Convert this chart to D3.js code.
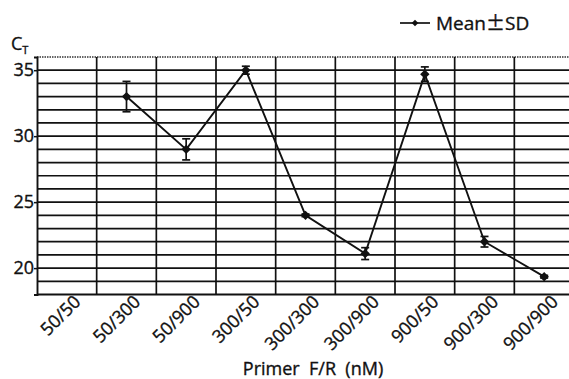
<!DOCTYPE html>
<html>
<head>
<meta charset="utf-8">
<script src="https://cdn.jsdelivr.net/npm/d3@7/dist/d3.min.js"></script>
<style>
  html, body { margin: 0; padding: 0; background: #fff; }
  svg { display: block; }
  text { font-family: "Open Sans", "Noto Sans", sans-serif; fill: #111; stroke: #111; stroke-width: 0.35px; }
</style>
</head>
<body>
<svg id="chart" width="569" height="379"></svg>
<script>
const categories = ["50/50", "50/300", "50/900", "300/50", "300/300", "300/900", "900/50", "900/300", "900/900"];
const meanValues = [null, 33.0, 29.0, 35.0, 24.0, 21.1, 34.7, 22.0, 19.35];
const sdValues = [null, 1.15, 0.8, 0.3, 0.1, 0.45, 0.55, 0.4, 0.1];
const yTickLabels = [20, 25, 30, 35];
const yGridValues = d3.range(18, 37, 1);
const legendParts = ["Mean", "\u00B1", "SD"];
const xTitle = "Primer  F/R  (nM)";

const data = categories.map((c, i) => ({ cat: c, mean: meanValues[i], sd: sdValues[i] }));

const svg = d3.select("#chart");
const pL = 37, pR = 574, pT = 57, pB = 294.5;

const x = d3.scaleBand().domain(categories).range([pL, pR]).padding(0);
const y = d3.scaleLinear().domain([18, 36]).range([pB, pT]);

// horizontal grid
svg.append("g").selectAll("line")
  .data(yGridValues.filter(v => v > 18 && v < 36))
  .join("line")
  .attr("x1", pL).attr("x2", 569)
  .attr("y1", d => y(d)).attr("y2", d => y(d))
  .attr("stroke", "#111").attr("stroke-width", 1.7);

// top border (dotted)
svg.append("line")
  .attr("x1", pL).attr("x2", 569)
  .attr("y1", y(36)).attr("y2", y(36))
  .attr("stroke", "#333").attr("stroke-width", 1.3)
  .attr("stroke-dasharray", "1.5,1");

// vertical grid at band boundaries
svg.append("g").selectAll("line")
  .data(categories.slice(1))
  .join("line")
  .attr("x1", d => x(d)).attr("x2", d => x(d))
  .attr("y1", pT).attr("y2", pB)
  .attr("stroke", "#111").attr("stroke-width", 1.7);

// y axis
const yAxis = d3.axisLeft(y).tickValues(yTickLabels).tickSize(3).tickPadding(0).tickFormat(d3.format("d"));
const gy = svg.append("g").attr("transform", `translate(${pL},0)`).call(yAxis);
gy.select(".domain").attr("stroke", "#111").attr("stroke-width", 1.9);
gy.selectAll(".tick line").attr("stroke", "#111").attr("stroke-width", 1.5);
gy.selectAll(".tick text").attr("font-size", 18).attr("font-family", "'Open Sans', sans-serif").attr("fill", "#111");

// x axis baseline
svg.append("line")
  .attr("x1", pL).attr("x2", 569)
  .attr("y1", pB).attr("y2", pB)
  .attr("stroke", "#111").attr("stroke-width", 1.9);

// x tick labels rotated
svg.append("g").selectAll("text")
  .data(categories)
  .join("text")
  .attr("text-anchor", "end")
  .attr("font-size", 18)
  .attr("transform", d => `translate(${x(d) + x.bandwidth() / 2 + 15},303) rotate(-45)`)
  .text(d => d);

// x title
svg.append("text")
  .attr("x", 313).attr("y", 375)
  .attr("text-anchor", "middle")
  .attr("font-size", 18)
  .style("white-space", "pre")
  .text(xTitle);

// y title C_T
const ct = svg.append("text").attr("x", 11).attr("y", 50).attr("font-size", 18);
ct.append("tspan").text("C");
ct.append("tspan").attr("font-size", 11).attr("dy", 4).text("T");

const valid = data.filter(d => d.mean != null);
const cx = d => x(d.cat) + x.bandwidth() / 2;

// error bars
const eb = svg.append("g").selectAll("g").data(valid).join("g");
eb.append("line")
  .attr("x1", cx).attr("x2", cx)
  .attr("y1", d => y(d.mean + d.sd)).attr("y2", d => y(d.mean - d.sd))
  .attr("stroke", "#111").attr("stroke-width", 1.7);
eb.append("line")
  .attr("x1", d => cx(d) - 4).attr("x2", d => cx(d) + 4)
  .attr("y1", d => y(d.mean + d.sd)).attr("y2", d => y(d.mean + d.sd))
  .attr("stroke", "#111").attr("stroke-width", 1.7);
eb.append("line")
  .attr("x1", d => cx(d) - 4).attr("x2", d => cx(d) + 4)
  .attr("y1", d => y(d.mean - d.sd)).attr("y2", d => y(d.mean - d.sd))
  .attr("stroke", "#111").attr("stroke-width", 1.7);

// line
const line = d3.line().defined(d => d.mean != null).x(cx).y(d => y(d.mean));
svg.append("path").datum(data)
  .attr("d", line)
  .attr("fill", "none").attr("stroke", "#111").attr("stroke-width", 1.9);

// markers (rotated squares = diamonds)
const diamond = d3.symbol().type(d3.symbolSquare).size(44);
svg.append("g").selectAll("path").data(valid).join("path")
  .attr("d", diamond)
  .attr("transform", d => `translate(${cx(d)},${y(d.mean)}) rotate(45)`)
  .attr("fill", "#111");

// legend
const lg = svg.append("g");
lg.append("line").attr("x1", 400).attr("x2", 430).attr("y1", 23).attr("y2", 23)
  .attr("stroke", "#111").attr("stroke-width", 1.7);
lg.append("path").attr("d", d3.symbol().type(d3.symbolSquare).size(22))
  .attr("transform", "translate(415,23) rotate(45)").attr("fill", "#111");
const lt = lg.append("text").attr("x", 436).attr("y", 29.5).attr("font-size", 19);
lt.append("tspan").text(legendParts[0]);
lt.append("tspan").attr("font-family", "'Noto Sans CJK SC', sans-serif").text(legendParts[1]);
lt.append("tspan").text(legendParts[2]);
</script>
</body>
</html>
